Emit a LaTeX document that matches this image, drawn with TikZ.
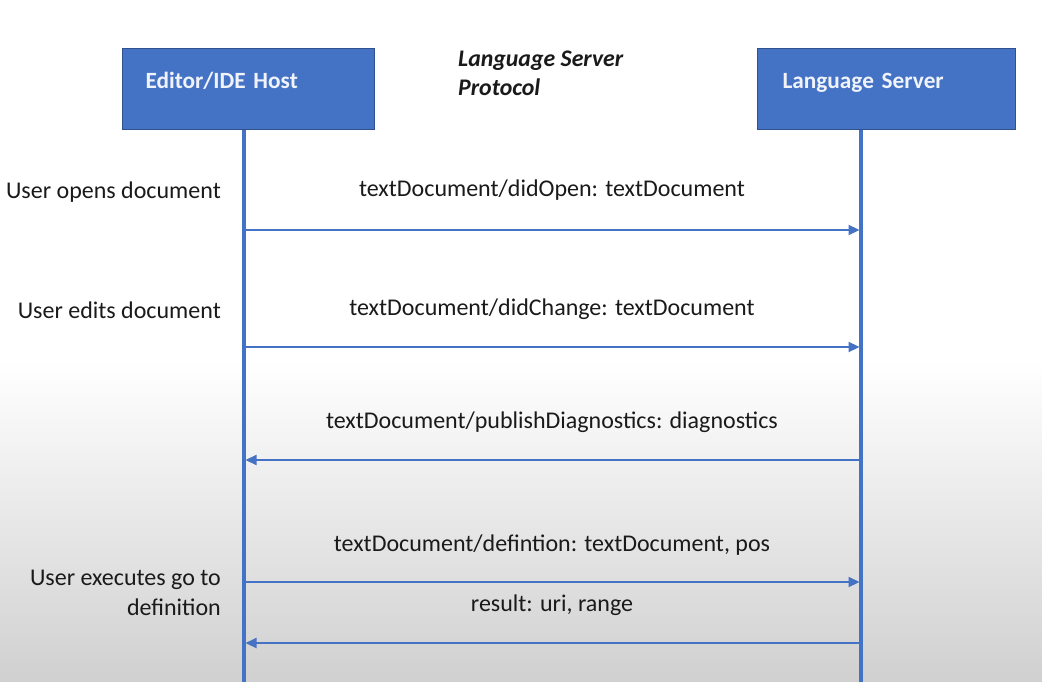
\documentclass[tikz,border=0pt]{standalone}
\usepackage{fontspec}
\setmainfont{Carlito}
\usetikzlibrary{arrows.meta}
\definecolor{obl}{HTML}{4472C4}
\definecolor{obd}{HTML}{2F528F}
\definecolor{txt}{HTML}{1A1A1A}
\definecolor{bottomgray}{HTML}{D0D0D0}
\begin{document}
\begin{tikzpicture}[x=1pt,y=-1pt,
  hostbox/.style={draw=obd, line width=1pt, fill=obl, rectangle, anchor=north west,
     inner ysep=0pt, minimum height=81pt, text height=40pt, text depth=41pt,
     align=left, text=white!92!obl, font=\fontsize{23.3}{27}\selectfont\bfseries},
  lifeline/.style={draw=obl, line width=3.2pt},
  msg/.style={draw=obl, line width=2.2pt, -{Triangle[length=11pt,width=10pt]}, shorten >=1.5pt},
  msglabel/.style={text=txt, font=\fontsize{24}{28}\selectfont, inner sep=0pt},
  userlabel/.style={text=txt, font=\fontsize{24}{30}\selectfont, inner sep=0pt, align=right, anchor=east}
]
\useasboundingbox (0,0) rectangle (1042,682);
\fill[white] (0,0) rectangle (1042,360);
\shade[top color=white, bottom color=bottomgray] (0,360) rectangle (1042,682);

% boxes
\node[hostbox, inner xsep=23pt, text width=206pt] (host) at (122,48) {Editor/IDE Host};
\node[hostbox, inner xsep=25pt, text width=208pt] (server) at (757,48) {Language Server};

% title
\node[text=txt, font=\fontsize{23.8}{29}\selectfont\bfseries\itshape, align=left, anchor=north west, inner sep=0pt] (title) at (458,51) {Language Server\\Protocol};

% lifeline coordinates
\coordinate (hend) at (244,682);
\coordinate (send) at (861,682);
\draw[lifeline] (host.south -| hend) -- (hend);
\draw[lifeline] (server.south -| send) -- (send);

\foreach \n/\y in {1/230, 2/347, 3/460, 4/582, 5/643} {
  \coordinate (h\n) at (244,\y);
  \coordinate (s\n) at (861,\y);
}

% messages
\draw[msg] (h1) -- (s1);
\draw[msg] (h2) -- (s2);
\draw[msg] (s3) -- (h3);
\draw[msg] (h4) -- (s4);
\draw[msg] (s5) -- (h5);

\node[msglabel] (m1) at (552,190) {textDocument/didOpen: textDocument};
\node[msglabel] (m2) at (552,309) {textDocument/didChange: textDocument};
\node[msglabel] (m3) at (552,422) {textDocument/publishDiagnostics: diagnostics};
\node[msglabel] (m4) at (552,545) {textDocument/defintion: textDocument, pos};
\node[msglabel] (m5) at (552,605) {result: uri, range};

% user actions
\node[userlabel] (u1) at (221,192) {User opens document};
\node[userlabel] (u2) at (221,310) {User edits document};
\node[userlabel] (u3) at (221,593) {User executes go to\\definition};
\end{tikzpicture}
\end{document}
